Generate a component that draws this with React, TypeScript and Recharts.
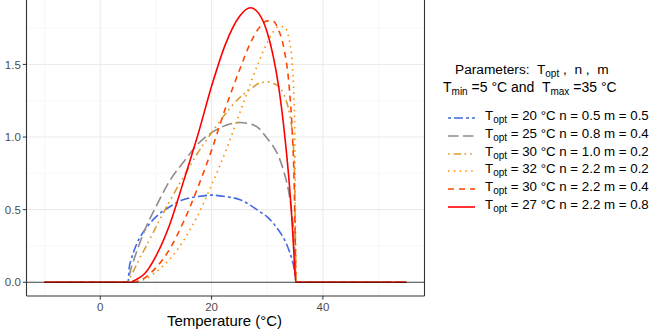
import { LineChart, Line, XAxis, YAxis, CartesianGrid, ReferenceLine } from "recharts";

// temperature grid (°C) and the six response curves
const temps = [-10, 5, 5.2, 5.5, 6, 7, 8, 10, 12.5, 15, 17.5, 20, 22.5, 25, 27, 28.5, 30, 31, 32, 33, 34, 34.5, 34.8, 34.9, 35.2, 55];
const rateA = [0, 0, 0.1, 0.15, 0.21, 0.3, 0.36, 0.45, 0.52, 0.57, 0.59, 0.6, 0.59, 0.57, 0.53, 0.49, 0.45, 0.41, 0.36, 0.3, 0.21, 0.15, 0.1, 0.07, 0, 0];
const rateB = [0, 0, 0.04, 0.09, 0.15, 0.26, 0.36, 0.52, 0.7, 0.83, 0.95, 1.03, 1.08, 1.1, 1.09, 1.06, 0.99, 0.94, 0.87, 0.76, 0.59, 0.45, 0.32, 0.24, 0, 0];
const rateC = [0, 0, 0.02, 0.04, 0.08, 0.16, 0.23, 0.38, 0.56, 0.73, 0.89, 1.03, 1.16, 1.27, 1.33, 1.37, 1.38, 1.37, 1.35, 1.29, 1.16, 1.03, 0.86, 0.75, 0, 0];
const rateD = [0, 0, 0, 0, 0, 0.01, 0.02, 0.07, 0.16, 0.29, 0.46, 0.67, 0.9, 1.16, 1.37, 1.52, 1.65, 1.72, 1.76, 1.76, 1.66, 1.5, 1.27, 1.12, 0, 0];
const rateE = [0, 0, 0, 0, 0, 0.01, 0.03, 0.1, 0.23, 0.42, 0.65, 0.91, 1.2, 1.46, 1.65, 1.75, 1.8, 1.8, 1.74, 1.61, 1.32, 1.03, 0.73, 0.56, 0, 0];
const rateF = [0, 0, 0, 0, 0.01, 0.03, 0.06, 0.18, 0.4, 0.7, 1.01, 1.35, 1.64, 1.83, 1.89, 1.85, 1.72, 1.57, 1.36, 1.06, 0.66, 0.39, 0.19, 0.11, 0, 0];

const toptLabels = ["20", "25", "30", "32", "30", "27"];
const nLabels = ["0.5", "0.8", "1.0", "2.2", "2.2", "2.2"];
const mLabels = ["0.5", "0.4", "0.2", "0.2", "0.4", "0.8"];

const xTicks = [0, 20, 40];
const yTicks = [0, 0.5, 1, 1.5];
const xMinor = [-10, 10, 30, 50];
const yMinor = [0.25, 0.75, 1.25, 1.75];

const series = [
  { key: "a", values: rateA, color: "#4169E1", dash: "3 3 9 3" },
  { key: "b", values: rateB, color: "#918B8B", dash: "10.5 4.5" },
  { key: "c", values: rateC, color: "#DA9D30", dash: "1.7 4 7.5 3.3 1.7 4" },
  { key: "d", values: rateD, color: "#FF8C00", dash: "1.5 4.3" },
  { key: "e", values: rateE, color: "#FF4500", dash: "6 5" },
  { key: "f", values: rateF, color: "#FF0000", dash: undefined },
];

const data = temps.map((t, i) => {
  const row: Record<string, number> = { t };
  series.forEach((s) => (row[s.key] = s.values[i]));
  return row;
});

const FONT = "'Liberation Sans', Arial, Helvetica, sans-serif";
const sub = { fontSize: 10, verticalAlign: "-3px" } as const;

export default function App() {
  return (
    <div style={{ position: "absolute", left: 0, top: -6, width: 663, height: 339, background: "#fff", fontFamily: FONT }}>
      <LineChart
        width={663}
        height={339}
        data={data}
        margin={{ top: 0, right: 238.5, bottom: 0, left: 0 }}
      >
        <CartesianGrid stroke="#F2F2F2" strokeWidth={0.6} horizontalValues={yMinor} verticalValues={xMinor} />
        <CartesianGrid stroke="#EBEBEB" strokeWidth={1.1} horizontalValues={yTicks} verticalValues={xTicks} />
        <XAxis
          dataKey="t"
          type="number"
          domain={[-13.25, 58.25]}
          ticks={xTicks}
          height={37}
          tickSize={3.7}
          tickMargin={3}
          tick={{ fill: "#4D4D4D", fontSize: 11.5, fontFamily: FONT }}
          tickLine={{ stroke: "#333" }}
          axisLine={{ stroke: "#333", strokeWidth: 1.1 }}
          allowDataOverflow
        />
        <YAxis
          type="number"
          domain={[-0.0945, 1.985]}
          ticks={yTicks}
          width={26.5}
          tickSize={3.7}
          tickMargin={2}
          tickFormatter={(v: number) => v.toFixed(1)}
          tick={{ fill: "#4D4D4D", fontSize: 11.5, fontFamily: FONT }}
          tickLine={{ stroke: "#333" }}
          axisLine={{ stroke: "#333", strokeWidth: 1.1 }}
          allowDataOverflow
        />
        <ReferenceLine x={58.25} stroke="#333" strokeWidth={1.1} />
        {series.map((s) => (
          <Line
            key={s.key}
            dataKey={s.key}
            type="monotone"
            stroke={s.color}
            strokeWidth={1.6}
            strokeDasharray={s.dash}
            dot={false}
            activeDot={false}
            isAnimationActive={false}
          />
        ))}
        <ReferenceLine y={0} stroke="#1a1a1a" strokeWidth={0.8} />
      </LineChart>

      <div style={{ position: "absolute", left: 0, width: 449, top: 318, textAlign: "center", fontSize: 15, color: "#000" }}>
        Temperature (°C)
      </div>

      <div style={{ position: "absolute", left: 455, top: 68, fontSize: 13.7, color: "#000", whiteSpace: "pre" }}>
        {"Parameters:  T"}<span style={sub}>opt</span>{" ,  n ,  m"}
      </div>
      <div style={{ position: "absolute", left: 443, top: 85, fontSize: 14, color: "#000", whiteSpace: "pre" }}>
        {"T"}<span style={sub}>min</span>{" =5 °C and  T"}<span style={sub}>max</span>{" =35 °C"}
      </div>
      {series.map((s, i) => (
        <div key={s.key} style={{ position: "absolute", left: 448, top: 115 + i * 17.8, height: 18, display: "flex", alignItems: "center" }}>
          <svg width={28} height={18} style={{ display: "block" }}>
            <line x1={0} x2={27} y1={9} y2={9} stroke={s.color} strokeWidth={1.6} strokeDasharray={s.dash} />
          </svg>
          <span style={{ marginLeft: 9, fontSize: 13.3, whiteSpace: "pre", lineHeight: "18px" }}>
            {"T"}<span style={sub}>opt</span>{` = ${toptLabels[i]} °C n = ${nLabels[i]} m = ${mLabels[i]}`}
          </span>
        </div>
      ))}
    </div>
  );
}
